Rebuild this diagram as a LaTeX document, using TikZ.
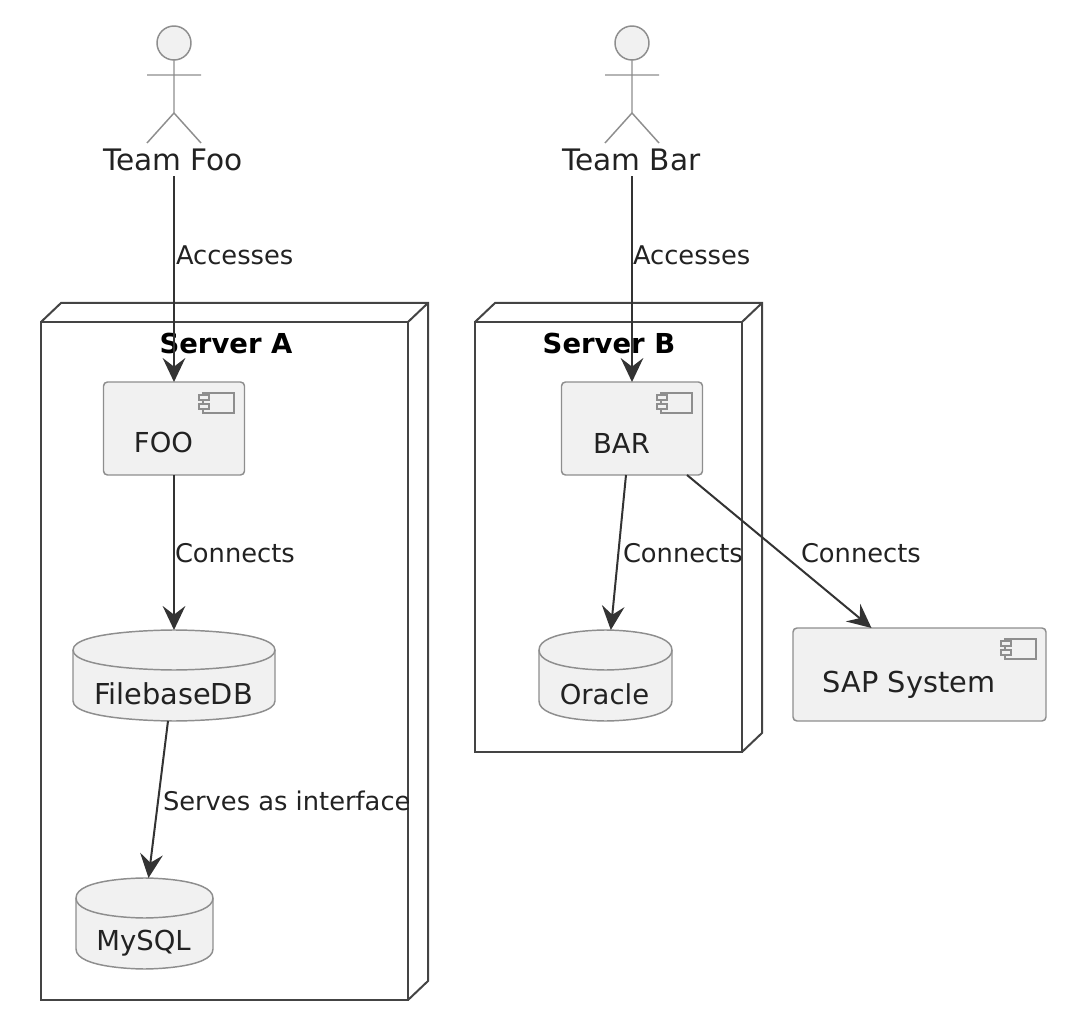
\documentclass[tikz,border=0pt]{standalone}
\usepackage{fontspec}
\setmainfont{DejaVu Sans}
\usetikzlibrary{arrows.meta,positioning}
\definecolor{fillc}{HTML}{F1F1F1}
\definecolor{thinc}{HTML}{8E8E8E}
\definecolor{framec}{HTML}{444444}
\definecolor{linkc}{HTML}{333333}
\definecolor{textc}{HTML}{222222}
\tikzset{
  x=0.75pt,y=-0.75pt,
  every node/.style={text=textc,inner sep=0pt,outer sep=0pt},
  frame3d/.style={draw=framec,line width=1.5pt,line join=miter},
  thinline/.style={draw=thinc,line width=1.1pt},
  compbox/.style={thinline,fill=fillc,rounded corners=3pt,rectangle},
  icon/.style={draw=thinc,line width=0.9pt,fill=fillc},
  dbhold/.style={rectangle,draw=none},
  link/.style={draw=linkc,line width=1.5pt,-{Stealth[length=18pt,width=17pt,inset=6.5pt]}},
  lab/.style={font=\fontsize{19.3pt}{23pt}\selectfont,anchor=west},
  big/.style={font=\fontsize{21.6pt}{26pt}\selectfont},
  small/.style={font=\fontsize{20.6pt}{25pt}\selectfont},
  team/.style={font=\fontsize{22.2pt}{26pt}\selectfont},
  title/.style={font=\fontsize{20.6pt}{25pt}\selectfont\bfseries,text=black},
}
\newcommand{\actorfig}[1]{%
  \draw[thinline] (#1,60) -- (#1,113) (#1-27,75) -- (#1+27,75) (#1-27,143) -- (#1,113) -- (#1+27,143);
  \draw[thinline,fill=fillc] (#1,43) circle (17);
}
\newcommand{\serverbox}[4]{% x0 y0 x1 y1
  \draw[frame3d] (#1,#2) rectangle (#3,#4);
  \draw[frame3d] (#1,#2) -- (#1+20,#2-19) -- (#3+20,#2-19) -- (#3+20,#4-19) -- (#3,#4);
  \draw[frame3d] (#3,#2) -- (#3+20,#2-19);
}
\newcommand{\compicon}[2]{% x0 y0 of the large icon box
  \draw[icon] (#1,#2) rectangle (#1+31,#2+20);
  \draw[icon] (#1-4,#2+2) rectangle (#1+6,#2+7);
  \draw[icon] (#1-4,#2+11) rectangle (#1+6,#2+16);
}
\newcommand{\dbshape}[4]{% x0 y0 x1 y1
  \draw[thinline,fill=fillc] (#1,#2+20) .. controls (#1,#2) and ({(#1+#3)/2},#2) .. ({(#1+#3)/2},#2)
    .. controls ({(#1+#3)/2},#2) and (#3,#2) .. (#3,#2+20)
    -- (#3,#4-20) .. controls (#3,#4) and ({(#1+#3)/2},#4) .. ({(#1+#3)/2},#4)
    .. controls ({(#1+#3)/2},#4) and (#1,#4) .. (#1,#4-20) -- cycle;
  \draw[thinline] (#1,#2+20) .. controls (#1,#2+40) and ({(#1+#3)/2},#2+40) .. ({(#1+#3)/2},#2+40)
    .. controls ({(#1+#3)/2},#2+40) and (#3,#2+40) .. (#3,#2+20);
}
\begin{document}
\begin{tikzpicture}
\useasboundingbox (0,0) rectangle (1076,1034);
% servers
\serverbox{41}{322}{408}{1000}
\serverbox{475}{322}{742}{752}
\node[title] (titlea) at (226,344) {Server A};
\node[title] (titleb) at (609,344) {Server B};
% actors
\actorfig{174}
\actorfig{632}
\node[team] (teamfoo) at (173,160) {Team Foo};
\node[team] (teambar) at (631.5,160) {Team Bar};
% components
\node[compbox,minimum width=105.75pt,minimum height=69.75pt] (foo) at (174,428.5) {};
\node[compbox,minimum width=105.75pt,minimum height=69.75pt] (bar) at (632,428.5) {};
\node[compbox,minimum width=189.75pt,minimum height=69.75pt] (sap) at (919.5,674.5) {};
\compicon{203}{393}
\compicon{661}{393}
\compicon{1005}{639}
\node[small] (foolab) at (163.5,443) {FOO};
\node[small] (barlab) at (621.5,443) {BAR};
\node[big] (saplab) at (909,684.5) {SAP System};
% databases
\dbshape{73}{630}{275}{721}
\dbshape{76}{878}{213}{969}
\dbshape{539}{630}{672}{721}
\node[dbhold,minimum width=151.5pt,minimum height=68.25pt] (fdb) at (174,675.5) {};
\node[dbhold,minimum width=102.75pt,minimum height=68.25pt] (mysql) at (144.5,923.5) {};
\node[dbhold,minimum width=99.75pt,minimum height=68.25pt] (oracle) at (605.5,675.5) {};
\node[big] (fdblab) at (173.5,694) {FilebaseDB};
\node[small] (mysqllab) at (143.5,943) {MySQL};
\node[small] (oraclelab) at (604.5,694) {Oracle};
% connectors
\draw[link] ([xshift=0.75pt,yshift=-4pt]teamfoo.south) -- (foo.north);
\draw[link] ([xshift=0.375pt,yshift=-4pt]teambar.south) -- (bar.north);
\draw[link] (foo.south) -- (fdb.north);
\draw[link] ([xshift=-4.5pt]fdb.south) -- ([xshift=3pt]mysql.north);
\draw[link] ([xshift=-4.5pt]bar.south) -- ([xshift=4pt]oracle.north);
\draw[link] ([xshift=41.25pt]bar.south) -- ([xshift=-36pt]sap.north);
% connector labels
\node[lab] (la1) at (176,255) {Accesses};
\node[lab] (la2) at (633,255) {Accesses};
\node[lab] (lc1) at (175,553) {Connects};
\node[lab] (lc2) at (623,553) {Connects};
\node[lab] (lc3) at (801,553) {Connects};
\node[lab] (ls) at (163,801) {Serves as interface};
\end{tikzpicture}
\end{document}
